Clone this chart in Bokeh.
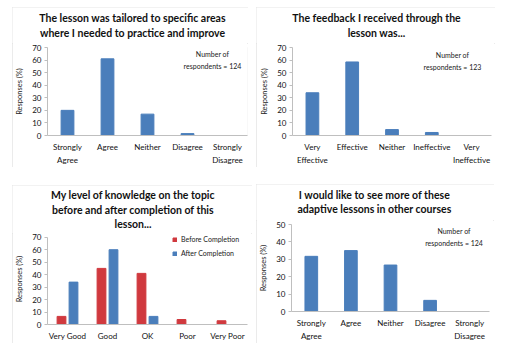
from bokeh.plotting import figure
from bokeh.layouts import column, row
from bokeh.models import Label, Legend, LegendItem, SingleIntervalTicker, Range1d, FactorRange
from bokeh.transform import dodge
from bokeh.embed import file_html
from bokeh.resources import INLINE

# ---------------- data ----------------
cats_agree = ["Strongly\nAgree", "Agree", "Neither", "Disagree", "Strongly\nDisagree"]
tailored_vals = [20, 61, 17, 1.5, 0]

cats_effective = ["Very\nEffective", "Effective", "Neither", "Ineffective", "Very\nIneffective"]
feedback_vals = [34, 58.5, 4.7, 2.4, 0]

cats_knowledge = ["Very Good", "Good", "OK", "Poor", "Very Poor"]
before_vals = [6.5, 45, 41, 4, 3]
after_vals = [34, 60, 6.5, 0, 0]

more_vals = [31.7, 35, 26.7, 6.4, 0]

titles = [
    ["The lesson was tailored to specific areas", "where I needed to practice and improve"],
    ["The feedback I received through the", "lesson was..."],
    ["My level of knowledge on the topic", "before and after completion of this", "lesson..."],
    ["I would like to see more of these", "adaptive lessons in other courses"],
]
notes = ["Number of\nrespondents = 124", "Number of\nrespondents = 123", None, "Number of\nrespondents = 124"]

BLUE = "#4a7ebb"
RED = "#d0393e"
FONT = "Lato"
TXT = "#1a1a1a"


def title_fig(lines, w, h, cx, ys):
    t = figure(width=w, height=h, x_range=Range1d(0, w), y_range=Range1d(h, 0),
               x_axis_type=None, y_axis_type=None, output_backend="svg", toolbar_location=None,
               min_border_left=0, min_border_right=0, min_border_top=0, min_border_bottom=0)
    t.outline_line_color = None
    t.xgrid.visible = False
    t.ygrid.visible = False
    for ln, y in zip(lines, ys):
        t.add_layout(Label(x=cx, y=y, text=ln, text_align="center", text_baseline="middle",
                           text_font=FONT, text_font_style="bold", text_font_size="10.5px",
                           text_color="#111111"))
    return t


class Chart:
    def __init__(self, cats, ymax, ytop, w, h, left, right, top, bottom):
        self.cats, self.ytop = cats, ytop
        self.w, self.left, self.right, self.top = w, left, right, top
        self.fw = w - left - right
        self.fh = h - top - bottom
        p = figure(width=w, height=h, x_range=FactorRange(*cats), y_range=Range1d(0, ytop),
                   output_backend="svg", toolbar_location=None,
                   min_border_left=left, min_border_right=right,
                   min_border_top=top, min_border_bottom=bottom)
        p.outline_line_color = None
        p.xgrid.grid_line_color = None
        p.ygrid.grid_line_color = None

        p.yaxis.ticker = SingleIntervalTicker(interval=10)
        p.yaxis.bounds = (0, ymax)
        p.yaxis.axis_label = "Responses (%)"
        p.yaxis.axis_label_text_font = FONT
        p.yaxis.axis_label_text_font_style = "normal"
        p.yaxis.axis_label_text_font_size = "7.5px"
        p.yaxis.axis_label_standoff = 5
        p.yaxis.major_tick_out = 3
        p.yaxis.major_tick_in = 0
        p.yaxis.minor_tick_out = 0
        p.yaxis.minor_tick_in = 0
        p.yaxis.major_label_standoff = 3
        for ax in (p.xaxis, p.yaxis):
            ax.axis_line_color = "#bfbfbf"
            ax.major_tick_line_color = "#bfbfbf"
            ax.major_label_text_font = FONT
            ax.major_label_text_font_size = "8px"
            ax.major_label_text_color = "#111111"
            ax.axis_label_text_color = TXT
        p.xaxis.major_tick_out = 0
        p.xaxis.major_tick_in = 0
        p.xaxis.major_label_standoff = 6
        p.xaxis.major_label_text_line_height = 1.3
        self.p = p

    # convert a pixel position inside the chart figure into data coordinates
    def to_data(self, px, py):
        x = (px - self.left) / self.fw * len(self.cats)
        y = (self.top + self.fh - py) / self.fh * self.ytop
        return x, y

    def add_note(self, text, cx, py):
        x, y = self.to_data(cx, py)
        self.p.add_layout(Label(x=x, y=y, text=text, text_align="center", text_baseline="top",
                                text_font=FONT, text_font_size="7px", text_color=TXT,
                                text_line_height=1.4))


def panel(tf, ch, margin):
    # wrapping each figure keeps the title frame independent of the chart frame
    return column(row(tf), row(ch.p), spacing=0, margin=margin,
                  styles={"outline": "1px solid #e4e4e4", "outline-offset": "-1px"})


# Panel 1
a = Chart(cats_agree, 70, 70, 236, 124, 35, 1, 4, 29)
a.p.vbar(x=cats_agree, top=tailored_vals, width=0.32, color=BLUE)
a.add_note(notes[0], 200, 7)
t1 = title_fig(titles[0], 236, 36, 120, [10, 25])

# Panel 2
b = Chart(cats_effective, 70, 70, 239, 124, 36, 4, 4, 29)
b.p.vbar(x=cats_effective, top=feedback_vals, width=0.32, color=BLUE)
b.add_note(notes[1], 196, 8)
t2 = title_fig(titles[1], 239, 36, 120, [10, 25])

# Panel 3
c = Chart(cats_knowledge, 70, 73, 240, 110, 33, 5, 0, 18)
src = dict(cat=cats_knowledge, before=before_vals, after=after_vals)
r_b = c.p.vbar(x=dodge("cat", -0.15, range=c.p.x_range), top="before", width=0.22, color=RED, source=src)
r_a = c.p.vbar(x=dodge("cat", 0.15, range=c.p.x_range), top="after", width=0.22, color=BLUE, source=src)
leg = Legend(items=[LegendItem(label="Before Completion", renderers=[r_b]),
                    LegendItem(label="After Completion", renderers=[r_a])],
             location=(125, 67), orientation="vertical")
leg.glyph_width = 5
leg.glyph_height = 5
leg.label_text_font = FONT
leg.label_text_font_size = "7px"
leg.label_text_color = TXT
leg.label_height = 8
leg.spacing = 6
leg.padding = 0
leg.margin = 0
leg.label_standoff = 4
leg.border_line_color = None
leg.background_fill_alpha = 0
c.p.add_layout(leg, "center")
t3 = title_fig(titles[2], 240, 48, 120.5, [9.7, 24, 38])

# Panel 4
d = Chart(cats_agree, 50, 50, 238, 123, 32, 5, 4, 28)
d.p.vbar(x=cats_agree, top=more_vals, width=0.32, color=BLUE)
d.add_note(notes[3], 197, 7)
t4 = title_fig(titles[3], 238, 36, 118, [10.7, 24.7])

layout = column(
    row(panel(t1, a, (7, 0, 0, 12)), panel(t2, b, (7, 0, 0, 8))),
    row(panel(t3, c, (18, 0, 0, 12)), panel(t4, d, (17, 0, 0, 4))),
)
open("out.html", "w").write(file_html(layout, INLINE))
